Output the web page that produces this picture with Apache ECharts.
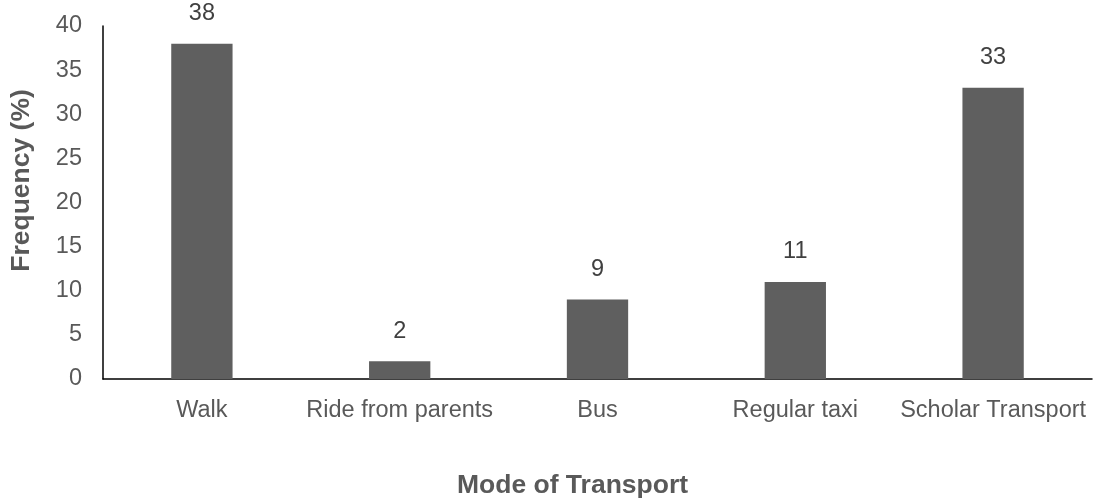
<!DOCTYPE html>
<html>
<head>
<meta charset="utf-8">
<style>
  html, body { margin: 0; padding: 0; background: #ffffff; }
  #chart { width: 1097px; height: 499px; }
</style>
<script src="https://cdn.jsdelivr.net/npm/echarts@6/dist/echarts.min.js"></script>
</head>
<body>
<div id="chart"></div>
<script>
// Share of pupils by mode of transport to school
const categories = ['Walk', 'Ride from parents', 'Bus', 'Regular taxi', 'Scholar Transport'];
const frequency = [38, 2, 9, 11, 33];
const yTicks = { min: 0, max: 40, interval: 5 };

const FONT = '"Liberation Sans", Arial, sans-serif';
const GREY = '#595959';

const chart = echarts.init(document.getElementById('chart'), null, { renderer: 'canvas' });
chart.setOption({
  animation: false,
  backgroundColor: '#ffffff',
  grid: { left: 103, right: 5, top: 26, bottom: 120, containLabel: false, outerBoundsMode: 'none' },
  xAxis: {
    type: 'category',
    data: categories,
    name: 'Mode of Transport',
    nameLocation: 'middle',
    nameGap: 93,
    // titles sit a little off the plot centre, toward the page centre
    nameTextStyle: { fontFamily: FONT, fontSize: 26.5, fontWeight: 'bold', color: GREY, padding: [0, 50, 0, 0] },
    axisLine: { lineStyle: { color: '#000000', width: 1.5 } },
    axisTick: { show: false },
    axisLabel: { fontFamily: FONT, fontSize: 23.5, color: GREY, margin: 20, interval: 0 },
    splitLine: { show: false }
  },
  yAxis: {
    type: 'value',
    min: yTicks.min,
    max: yTicks.max,
    interval: yTicks.interval,
    name: 'Frequency (%)',
    nameLocation: 'middle',
    nameGap: 68,
    nameRotate: 90,
    nameTextStyle: { fontFamily: FONT, fontSize: 26.5, fontWeight: 'bold', color: GREY, padding: [0, 0, 0, 44] },
    axisLine: { show: true, lineStyle: { color: '#000000', width: 1.5 } },
    axisTick: { show: false },
    axisLabel: { fontFamily: FONT, fontSize: 23.5, color: GREY, margin: 21 },
    splitLine: { show: false }
  },
  series: [{
    type: 'bar',
    data: frequency,
    barWidth: '31%',
    itemStyle: { color: '#5f5f5f' },
    label: {
      show: true,
      position: 'top',
      distance: 18,
      fontFamily: FONT,
      fontSize: 23.5,
      color: '#404040'
    }
  }]
});
</script>
</body>
</html>
